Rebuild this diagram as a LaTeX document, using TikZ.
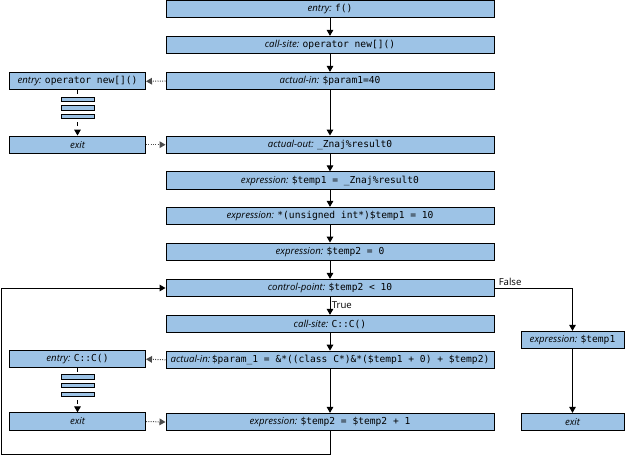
\documentclass[tikz,border=0pt]{standalone}
\usepackage{fontspec}
\setmainfont{Open Sans}
\newfontfamily\monof{DejaVu Sans Mono}
\usetikzlibrary{arrows.meta}
\definecolor{boxblue}{RGB}{157,195,230}
\newcommand\lb[1]{{\itshape #1}}
\newcommand\cd[1]{{\monof #1}}
\tikzset{
  every node/.style={font=\fontsize{7.2}{9}\selectfont},
  basebox/.style={draw=black, fill=boxblue, line width=0.75pt, inner sep=0pt, minimum height=13pt, align=center},
  mainbox/.style={basebox, minimum width=246pt},
  sidebox/.style={basebox, minimum width=102pt},
  rightbox/.style={basebox, minimum width=77.25pt},
  barbox/.style={draw=black, fill=boxblue, line width=0.75pt, inner sep=0pt, minimum width=24.75pt, minimum height=3.4pt},
  arr/.style={line width=0.75pt, -{Triangle[width=5pt,length=4.5pt]}},
  dotarr/.style={arr, densely dotted, draw=black!70},
  dasharr/.style={arr, dashed},
  lbl/.style={inner sep=0pt, font=\fontsize{7.2}{9}\selectfont}
}
\begin{document}
\begin{tikzpicture}[x=0.75pt,y=-0.75pt]
\useasboundingbox (0,0) rectangle (625,456);
% main column
\node[mainbox] (n1) at (330,8.9) {\lb{entry:} \cd{f()}};
\node[mainbox] (n2) at (330,45) {\lb{call-site:} \cd{operator new[]()}};
\node[mainbox] (n3) at (330,81) {\lb{actual-in:} \cd{\$param1=40}};
\node[mainbox] (n4) at (330,144.7) {\lb{actual-out:} \cd{\_Znaj\%result0}};
\node[mainbox] (n5) at (330,180.5) {\lb{expression:} \cd{\$temp1 = \_Znaj\%result0}};
\node[mainbox] (n6) at (330,216) {\lb{expression:} \cd{*(unsigned int*)\$temp1 = 10}};
\node[mainbox] (n7) at (330,251.7) {\lb{expression:} \cd{\$temp2 = 0}};
\node[mainbox] (n8) at (330,288) {\lb{control-point:} \cd{\$temp2 < 10}};
\node[mainbox] (n9) at (330,324) {\lb{call-site:} \cd{C::C()}};
\node[mainbox] (n10) at (330,359.8) {\lb{actual-in:}\,\cd{\$param\_1 = \&*((class C*)\&*(\$temp1 + 0) + \$temp2)}};
\node[mainbox] (n11) at (330,422) {\lb{expression:} \cd{\$temp2 = \$temp2 + 1}};
% left column, first call
\node[sidebox] (e1) at (77.5,81.3) {\lb{entry:} \cd{operator new[]()}};
\node[sidebox] (x1) at (77.5,144.7) {\lb{exit}};
\draw[dasharr] (e1.south) -- (x1.north);
\node[barbox] (b11) at (77.7,99.7) {};
\node[barbox] (b12) at (77.7,108) {};
\node[barbox] (b13) at (77.7,116.7) {};
% left column, second call
\node[sidebox] (e2) at (77.5,359.2) {\lb{entry:} \cd{C::C()}};
\node[sidebox] (x2) at (77.5,421.5) {\lb{exit}};
\draw[dasharr] (e2.south) -- (x2.north);
\node[barbox] (b21) at (77.7,376.8) {};
\node[barbox] (b22) at (77.7,385.7) {};
\node[barbox] (b23) at (77.7,394.7) {};
% right column
\node[rightbox] (r1) at (572.5,340) {\lb{expression:} \cd{\$temp1}};
\node[rightbox] (r2) at (572.5,422) {\lb{exit}};
% main arrows
\draw[arr] (n1) -- (n2);
\draw[arr] (n2) -- (n3);
\draw[arr] (n3) -- (n4);
\draw[arr] (n4) -- (n5);
\draw[arr] (n5) -- (n6);
\draw[arr] (n6) -- (n7);
\draw[arr] (n7) -- (n8);
\draw[arr] (n8) -- node[lbl, right, xshift=1pt, yshift=1pt] {True} (n9);
\draw[arr] (n9) -- (n10);
\draw[arr] (n10) -- (n11);
% interprocedural
\draw[dotarr] (n3.west) -- (e1.east);
\draw[dotarr] (x1.east) -- (n4.west);
\draw[dotarr] (n10.west) -- (e2.east);
\draw[dotarr] (x2.east) -- (n11.west);
% false branch
\draw[arr] (n8.east) -| node[lbl, pos=0.1, above, yshift=1.5pt] {False} (r1.north);
\draw[arr] (r1) -- (r2);
% loop back
\coordinate (lbc) at (1.7,454);
\draw[arr] (n11.south) |- (lbc) |- (n8.west);
\end{tikzpicture}
\end{document}
